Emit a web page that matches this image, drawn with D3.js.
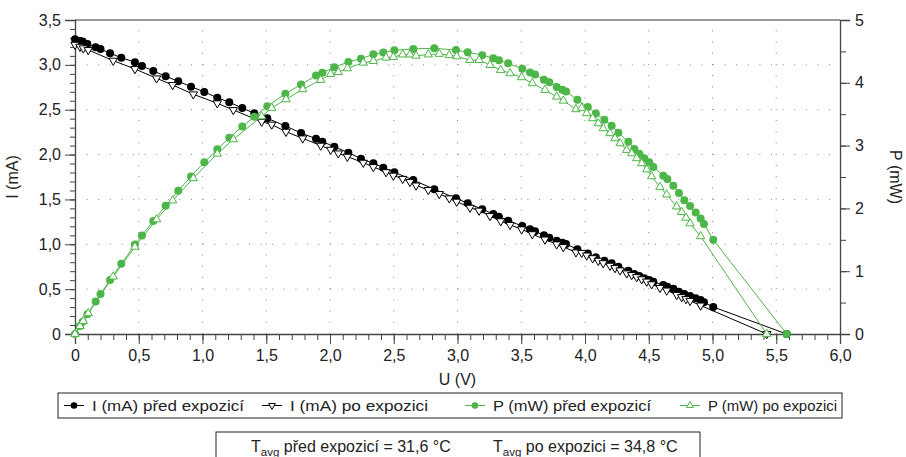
<!DOCTYPE html>
<html>
<head>
<meta charset="utf-8">
<script src="https://cdn.jsdelivr.net/npm/d3@7"></script>
<style>
  body { margin: 0; background: #fff; }
  svg { font-family: "Liberation Sans", Arial, Helvetica, sans-serif; }
  .axis text { font-size: 16px; fill: #222; }
  .axis path { stroke: #444; }
  .axis line { stroke: #444; }
  .grid line { stroke: #888; stroke-width: 1; }
</style>
</head>
<body>
<svg id="chart" width="906" height="457"></svg>
<script>
// U (V), I (mA) and P (mW) before exposure
const uPred = [0, 0.039, 0.06, 0.097, 0.162, 0.2, 0.275, 0.363, 0.47, 0.525, 0.614, 0.711, 0.81, 0.91,
  1.014, 1.116, 1.21, 1.312, 1.406, 1.508, 1.65, 1.773, 1.89, 1.94, 2.034, 2.144, 2.243, 2.34, 2.418,
  2.505, 2.653, 2.818, 2.988, 3.08, 3.194, 3.281, 3.325, 3.398, 3.508, 3.569, 3.608, 3.678, 3.72, 3.778,
  3.822, 3.851, 3.94, 4.022, 4.085, 4.152, 4.209, 4.262, 4.34, 4.387, 4.426, 4.465, 4.504, 4.536, 4.614,
  4.646, 4.693, 4.737, 4.779, 4.824, 4.868, 4.907, 4.933, 5.006, 5.582];
const iPred = [3.285, 3.266, 3.259, 3.233, 3.196, 3.177, 3.129, 3.08, 3.029, 2.988, 2.932, 2.873, 2.817, 2.757,
  2.698, 2.634, 2.583, 2.519, 2.46, 2.404, 2.319, 2.24, 2.177, 2.144, 2.088, 2.021, 1.954, 1.903, 1.854,
  1.803, 1.716, 1.613, 1.513, 1.457, 1.39, 1.338, 1.308, 1.263, 1.204, 1.167, 1.145, 1.1, 1.074, 1.04,
  1.018, 1.003, 0.944, 0.897, 0.855, 0.817, 0.788, 0.75, 0.706, 0.669, 0.647, 0.621, 0.602, 0.583, 0.546,
  0.527, 0.505, 0.472, 0.446, 0.424, 0.398, 0.379, 0.353, 0.301, 0];
const pPred = [0, 0.127, 0.196, 0.314, 0.518, 0.635, 0.86, 1.118, 1.424, 1.569, 1.8, 2.043, 2.282, 2.509,
  2.736, 2.94, 3.125, 3.305, 3.459, 3.625, 3.826, 3.972, 4.115, 4.159, 4.247, 4.333, 4.383, 4.453, 4.483,
  4.517, 4.54, 4.55, 4.521, 4.488, 4.44, 4.39, 4.36, 4.31, 4.224, 4.165, 4.131, 4.05, 4.01, 3.935,
  3.891, 3.863, 3.73, 3.615, 3.51, 3.41, 3.317, 3.205, 3.06, 2.945, 2.87, 2.8, 2.735, 2.66, 2.519,
  2.47, 2.36, 2.245, 2.131, 2.04, 1.935, 1.84, 1.75, 1.5, 0];

// U (V), I (mA) and P (mW) after exposure
const uPo = [0, 0.039, 0.065, 0.104, 0.3, 0.47, 0.64, 0.766, 0.928, 1.116, 1.242, 1.464, 1.543, 1.655,
  1.786, 1.927, 2.005, 2.065, 2.136, 2.261, 2.34, 2.44, 2.497, 2.57, 2.627, 2.675, 2.771, 2.857, 2.936,
  2.994, 3.098, 3.169, 3.255, 3.339, 3.412, 3.503, 3.587, 3.686, 3.778, 3.83, 3.929, 3.974, 4.013, 4.06,
  4.104, 4.143, 4.196, 4.235, 4.275, 4.327, 4.366, 4.405, 4.445, 4.484, 4.523, 4.588, 4.641, 4.719,
  4.758, 4.792, 4.824, 4.907, 5.425];
const iPo = [3.225, 3.203, 3.185, 3.166, 3.047, 2.954, 2.85, 2.776, 2.672, 2.572, 2.497, 2.367, 2.335, 2.255,
  2.181, 2.1, 2.055, 2.014, 1.977, 1.91, 1.862, 1.805, 1.766, 1.73, 1.695, 1.656, 1.606, 1.561, 1.513,
  1.476, 1.408, 1.376, 1.316, 1.258, 1.217, 1.167, 1.113, 1.054, 1.0, 0.97, 0.911, 0.905, 0.876, 0.846,
  0.817, 0.79, 0.762, 0.736, 0.71, 0.677, 0.659, 0.635, 0.611, 0.585, 0.555, 0.515, 0.485, 0.437,
  0.412, 0.39, 0.37, 0.318, 0];
const pPo = [0, 0.125, 0.207, 0.329, 0.914, 1.388, 1.824, 2.126, 2.48, 2.87, 3.1, 3.465, 3.6, 3.737,
  3.896, 4.045, 4.14, 4.17, 4.23, 4.32, 4.347, 4.4, 4.41, 4.45, 4.45, 4.43, 4.45, 4.46, 4.44,
  4.42, 4.362, 4.362, 4.283, 4.204, 4.151, 4.087, 3.992, 3.885, 3.779, 3.715, 3.578, 3.6, 3.514, 3.435,
  3.355, 3.275, 3.196, 3.116, 3.036, 2.93, 2.877, 2.798, 2.718, 2.62, 2.51, 2.34, 2.22, 2.03,
  1.94, 1.85, 1.76, 1.555, 0];

const uTicks = [0, 0.5, 1, 1.5, 2, 2.5, 3, 3.5, 4, 4.5, 5, 5.5, 6];
const iTicks = [0, 0.5, 1, 1.5, 2, 2.5, 3, 3.5];
const pTicks = [0, 1, 2, 3, 4, 5];

const legendLabels = ["I (mA) před expozicí", "I (mA) po expozici", "P (mW) před expozicí", "P (mW) po expozici"];

const green = "#4cb648";
const margin = { left: 75, top: 20, right: 66, bottom: 123 };
const width = 906 - margin.left - margin.right;
const height = 457 - margin.top - margin.bottom;

const svg = d3.select("#chart");
const g = svg.append("g")
  .attr("transform", "translate(" + margin.left + "," + margin.top + ")");

const x = d3.scaleLinear().domain([0, 6]).range([0, width]);
const yI = d3.scaleLinear().domain([0, 3.5]).range([height, 0]);
const yP = d3.scaleLinear().domain([0, 5]).range([height, 0]);

const comma = function(d) { return d === 0 ? "0" : d3.format(".1f")(d).replace(".", ","); };

// dotted grid
const grid = g.append("g").attr("class", "grid");
grid.selectAll(".gx")
  .data(uTicks.filter(function(d) { return d > 0 && d < 6; }))
  .enter().append("line")
  .attr("x1", function(d) { return x(d); })
  .attr("x2", function(d) { return x(d); })
  .attr("y1", height).attr("y2", 0)
  .attr("stroke-dasharray", "1,10.21");
grid.selectAll(".gy")
  .data(iTicks.filter(function(d) { return d > 0 && d < 3.5; }))
  .enter().append("line")
  .attr("x1", 0).attr("x2", width)
  .attr("y1", function(d) { return yI(d); })
  .attr("y2", function(d) { return yI(d); })
  .attr("stroke-dasharray", "1,10.6");

// frame top
g.append("line")
  .attr("x1", 0).attr("x2", width).attr("y1", 0).attr("y2", 0)
  .attr("stroke", "#777").attr("stroke-width", 1.5);

// minor ticks
g.append("g").attr("class", "axis")
  .attr("transform", "translate(0," + height + ")")
  .call(d3.axisBottom(x).ticks(60).tickSize(6).tickFormat(""));
g.append("g").attr("class", "axis")
  .call(d3.axisLeft(yI).ticks(35).tickSize(5).tickFormat(""));
g.append("g").attr("class", "axis")
  .attr("transform", "translate(" + width + ",0)")
  .call(d3.axisRight(yP).ticks(10).tickSize(6).tickFormat(""));

// major axes
g.append("g").attr("class", "axis")
  .attr("transform", "translate(0," + height + ")")
  .call(d3.axisBottom(x).tickValues(uTicks).tickSize(10).tickPadding(6).tickFormat(comma))
  .call(function(a) { a.select(".domain").attr("stroke", "#111").attr("stroke-width", 1.3); });
g.append("g").attr("class", "axis")
  .call(d3.axisLeft(yI).tickValues(iTicks).tickSize(10).tickPadding(4).tickFormat(comma))
  .call(function(a) { a.select(".domain").attr("stroke-width", 1.3); });
g.append("g").attr("class", "axis")
  .attr("transform", "translate(" + width + ",0)")
  .call(d3.axisRight(yP).tickValues(pTicks).tickSize(10).tickPadding(5).tickFormat(d3.format("d")))
  .call(function(a) { a.select(".domain").attr("stroke", "#777").attr("stroke-width", 1.3); });

// axis titles
g.append("text")
  .attr("x", width / 2).attr("y", height + 51)
  .attr("text-anchor", "middle").attr("font-size", 16).attr("fill", "#222")
  .text("U (V)");
g.append("text")
  .attr("transform", "translate(" + (-57) + "," + (height / 2) + ") rotate(-90)")
  .attr("text-anchor", "middle").attr("font-size", 16).attr("fill", "#222")
  .text("I (mA)");
g.append("text")
  .attr("transform", "translate(" + (width + 50) + "," + (height / 2) + ") rotate(90)")
  .attr("text-anchor", "middle").attr("font-size", 16).attr("fill", "#222")
  .text("P (mW)");

function zip(us, vs) {
  return us.map(function(u, i) { return { u: u, v: vs[i] }; });
}

const series = [
  { data: zip(uPred, iPred), y: yI, color: "#000", marker: "circle" },
  { data: zip(uPo, iPo), y: yI, color: "#000", marker: "down" },
  { data: zip(uPred, pPred), y: yP, color: green, marker: "circle" },
  { data: zip(uPo, pPo), y: yP, color: green, marker: "up" }
];

const triangle = d3.symbol().type(d3.symbolTriangle).size(30);

function drawMarker(sel, s) {
  if (s.marker === "circle") {
    sel.append("circle").attr("r", 4).attr("fill", s.color);
  } else {
    sel.append("path")
      .attr("d", triangle)
      .attr("transform", s.marker === "down" ? "rotate(180)" : null)
      .attr("fill", "#fff")
      .attr("stroke", s.color)
      .attr("stroke-width", 1);
  }
}

series.forEach(function(s) {
  const line = d3.line()
    .x(function(d) { return x(d.u); })
    .y(function(d) { return s.y(d.v); });
  g.append("path")
    .datum(s.data)
    .attr("fill", "none")
    .attr("stroke", s.color)
    .attr("stroke-width", 1)
    .attr("d", line);
  g.append("g").selectAll("g")
    .data(s.data)
    .enter().append("g")
    .attr("transform", function(d) { return "translate(" + x(d.u) + "," + s.y(d.v) + ")"; })
    .each(function() { drawMarker(d3.select(this), s); });
});

// legend
const legend = svg.append("g").attr("transform", "translate(58,393)");
legend.append("rect")
  .attr("width", 784).attr("height", 25)
  .attr("fill", "#fff").attr("stroke", "#222").attr("stroke-width", 1);
const legendX = [6, 204, 407, 622];
const legendW = [152, 138, 158, 129];
series.forEach(function(s, i) {
  const item = legend.append("g").attr("transform", "translate(" + legendX[i] + ",12.5)");
  item.append("line").attr("x1", 0).attr("x2", 20).attr("stroke", s.color).attr("stroke-width", 1);
  const m = item.append("g").attr("transform", "translate(10,0)");
  if (s.marker === "circle") {
    m.append("circle").attr("r", 3.3).attr("fill", s.color);
  } else {
    m.append("path")
      .attr("d", d3.symbol().type(d3.symbolTriangle).size(20))
      .attr("transform", s.marker === "down" ? "rotate(180)" : null)
      .attr("fill", "#fff").attr("stroke", s.color);
  }
  item.append("text")
    .attr("x", 28).attr("y", 5.5)
    .attr("font-size", 15.5).attr("fill", "#222")
    .attr("textLength", legendW[i]).attr("lengthAdjust", "spacingAndGlyphs")
    .text(legendLabels[i]);
});

// temperature box
const temps = svg.append("g").attr("transform", "translate(216,432)");
temps.append("rect")
  .attr("width", 484).attr("height", 30)
  .attr("fill", "#fff").attr("stroke", "#222").attr("stroke-width", 1);
const tText = temps.append("text").attr("y", 19.5).attr("font-size", 16).attr("fill", "#222");
tText.append("tspan").attr("x", 35).text("T");
tText.append("tspan").attr("dy", 4).attr("font-size", 11.5).text("avg");
tText.append("tspan").attr("dy", -4).text(" před expozicí = 31,6 °C");
tText.append("tspan").attr("x", 277).text("T");
tText.append("tspan").attr("dy", 4).attr("font-size", 11.5).text("avg");
tText.append("tspan").attr("dy", -4).text(" po expozici = 34,8 °C");
</script>
</body>
</html>
